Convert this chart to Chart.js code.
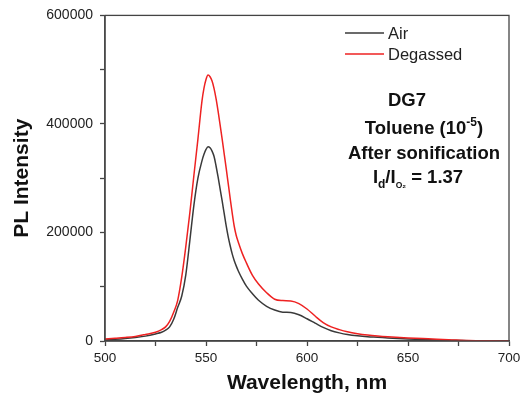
<!DOCTYPE html>
<html>
<head>
<meta charset="utf-8">
<script src="https://cdn.jsdelivr.net/npm/chart.js@4.4.0/dist/chart.umd.min.js"></script>
<style>
  html, body { margin: 0; padding: 0; background: #fff; }
  #wrap { width: 526px; height: 402px; }
</style>
</head>
<body>
<div id="wrap"><canvas id="myChart" width="526" height="402"></canvas></div>
<script>
// spectra (nm, counts)
const wavelengths = [
  500, 505, 510, 515, 520, 525, 528, 530, 532, 534,
  536, 538, 540, 542, 544, 546, 548, 549, 550, 551,
  552, 553, 554, 555, 556, 557, 558, 559, 560, 561,
  562, 563, 564, 565, 566, 568, 570, 573, 576, 580,
  584, 588, 592, 596, 600, 604, 608, 612, 616, 620,
  625, 630, 635, 640, 650, 660, 670, 680, 690, 700];
const airIntensity = [
  1800, 3000, 4500, 6500, 9000, 13000, 16000, 20000, 26000, 40000,
  62000, 83000, 122000, 185000, 250000, 300000, 332000, 344000, 353000, 358000,
  356000, 350000, 340000, 322000, 302000, 280000, 258000, 235000, 212000, 192000,
  175000, 160000, 148000, 138000, 129000, 114000, 101000, 87000, 75000, 64000,
  57000, 53000, 52500, 48500, 41000, 33000, 25000, 19000, 15000, 12000,
  9500, 7800, 6800, 5600, 3800, 2500, 1500, 600, null, null];
const degassedIntensity = [
  3700, 5000, 6500, 8500, 12000, 16000, 21000, 26000, 36000, 53000,
  75000, 118000, 174000, 236000, 305000, 372000, 442000, 466000, 482000, 490000,
  487000, 479000, 465000, 446000, 423000, 398000, 372000, 345000, 318000, 290000,
  262000, 235000, 211000, 194000, 182000, 161000, 144000, 121000, 105000, 89000,
  77000, 74500, 73800, 69000, 59000, 46000, 34000, 26000, 21000, 17000,
  13500, 11000, 9200, 7800, 5600, 4000, 2500, 800, 300, 200];
const seriesLabels = ["Air", "Degassed"];
const seriesColors = ["#3a3a3a", "#ee2222"];
const xLabelStep = 50;
const yLabelStep = 200000;

const toPoints = (vals) => wavelengths.map((w, i) => ({ x: w, y: vals[i] }));

// box round the plot + legend and notes inside it
const framePlugin = {
  id: "frame",
  afterDatasetsDraw(chart) {
    const { ctx, chartArea: a } = chart;
    ctx.save();
    ctx.strokeStyle = "#444";
    ctx.lineWidth = 1.3;
    ctx.strokeRect(a.left, a.top, a.right - a.left, a.bottom - a.top);
    ctx.restore();
  },
  afterDraw(chart) {
    const ctx = chart.ctx;
    ctx.save();
    // legend
    chart.data.datasets.forEach((ds, i) => {
      const y = 33 + i * 21;
      ctx.strokeStyle = ds.borderColor;
      ctx.lineWidth = 1.5;
      ctx.beginPath();
      ctx.moveTo(345, y);
      ctx.lineTo(384, y);
      ctx.stroke();
      ctx.fillStyle = "#222";
      ctx.font = "16.5px 'Liberation Sans', Arial, sans-serif";
      ctx.textBaseline = "middle";
      ctx.textAlign = "left";
      ctx.fillText(ds.label, 388, y + 1);
    });

    // notes
    const big = "bold 18.5px 'Liberation Sans', Arial, sans-serif";
    const small = "bold 12px 'Liberation Sans', Arial, sans-serif";
    const tiny = "bold 8.5px 'Liberation Sans', Arial, sans-serif";
    ctx.fillStyle = "#111";
    ctx.textBaseline = "alphabetic";
    ctx.textAlign = "center";
    ctx.font = big;
    ctx.fillText("DG7", 407, 106);
    ctx.fillText("After sonification", 424, 159);

    // runs of text with raised / lowered bits
    const drawRuns = (runs, cx, base) => {
      ctx.textAlign = "left";
      let w = 0;
      runs.forEach(r => { ctx.font = r.f; w += ctx.measureText(r.t).width; });
      let x = cx - w / 2;
      runs.forEach(r => {
        ctx.font = r.f;
        ctx.fillText(r.t, x, base + r.dy);
        x += ctx.measureText(r.t).width;
      });
    };
    drawRuns([
      { t: "Toluene (10", f: big, dy: 0 },
      { t: "-5", f: small, dy: -8 },
      { t: ")", f: big, dy: 0 }
    ], 424, 134);
    drawRuns([
      { t: "I", f: big, dy: 0 },
      { t: "d", f: small, dy: 5 },
      { t: "/I", f: big, dy: 0 },
      { t: "O\u2082", f: tiny, dy: 5 },
      { t: " = 1.37", f: big, dy: 0 }
    ], 418, 183);
    ctx.restore();
  }
};

const ctx = document.getElementById("myChart");
new Chart(ctx, {
  type: "line",
  data: {
    datasets: [
      {
        label: seriesLabels[0],
        data: toPoints(airIntensity),
        borderColor: seriesColors[0],
        borderWidth: 1.5,
        pointRadius: 0,
        cubicInterpolationMode: "monotone",
        fill: false,
        order: 1
      },
      {
        label: seriesLabels[1],
        data: toPoints(degassedIntensity),
        borderColor: seriesColors[1],
        borderWidth: 1.5,
        pointRadius: 0,
        cubicInterpolationMode: "monotone",
        fill: false,
        order: 0
      }
    ]
  },
  options: {
    responsive: false,
    animation: false,
    devicePixelRatio: 1,
    layout: { padding: { left: 0, top: 14, right: 17, bottom: 0 } },
    plugins: {
      legend: { display: false },
      tooltip: { enabled: false }
    },
    scales: {
      x: {
        type: "linear",
        min: 500,
        max: 700,
        afterFit: (s) => { s.height = 61; },
        grid: { display: true, drawOnChartArea: false, tickLength: 5, tickColor: "#444", tickWidth: 1.3 },
        border: { display: true, color: "#444", width: 1.5 },
        ticks: {
          stepSize: 25,
          autoSkip: false,
          maxRotation: 0,
          padding: 4,
          color: "#222",
          font: { family: "'Liberation Sans', Arial, sans-serif", size: 13.5 },
          callback: (v) => (v % xLabelStep === 0 ? String(v) : "")
        },
        title: {
          display: true,
          text: "Wavelength, nm",
          color: "#111",
          font: { family: "'Liberation Sans', Arial, sans-serif", size: 21, weight: "bold" },
          padding: { top: 0, bottom: 6 }
        }
      },
      y: {
        min: 0,
        max: 600000,
        afterFit: (s) => { s.width = 105; },
        grid: { display: true, drawOnChartArea: false, tickLength: 5, tickColor: "#444", tickWidth: 1.3 },
        border: { display: true, color: "#555", width: 1.5 },
        ticks: {
          stepSize: 100000,
          autoSkip: false,
          padding: 7,
          color: "#222",
          font: { family: "'Liberation Sans', Arial, sans-serif", size: 14 },
          callback: (v) => (v % yLabelStep === 0 ? String(v) : "")
        },
        title: {
          display: true,
          text: "PL Intensity",
          color: "#111",
          font: { family: "'Liberation Sans', Arial, sans-serif", size: 21, weight: "bold" },
          padding: { top: 10, bottom: 0 }
        }
      }
    }
  },
  plugins: [framePlugin]
});
</script>
</body>
</html>
